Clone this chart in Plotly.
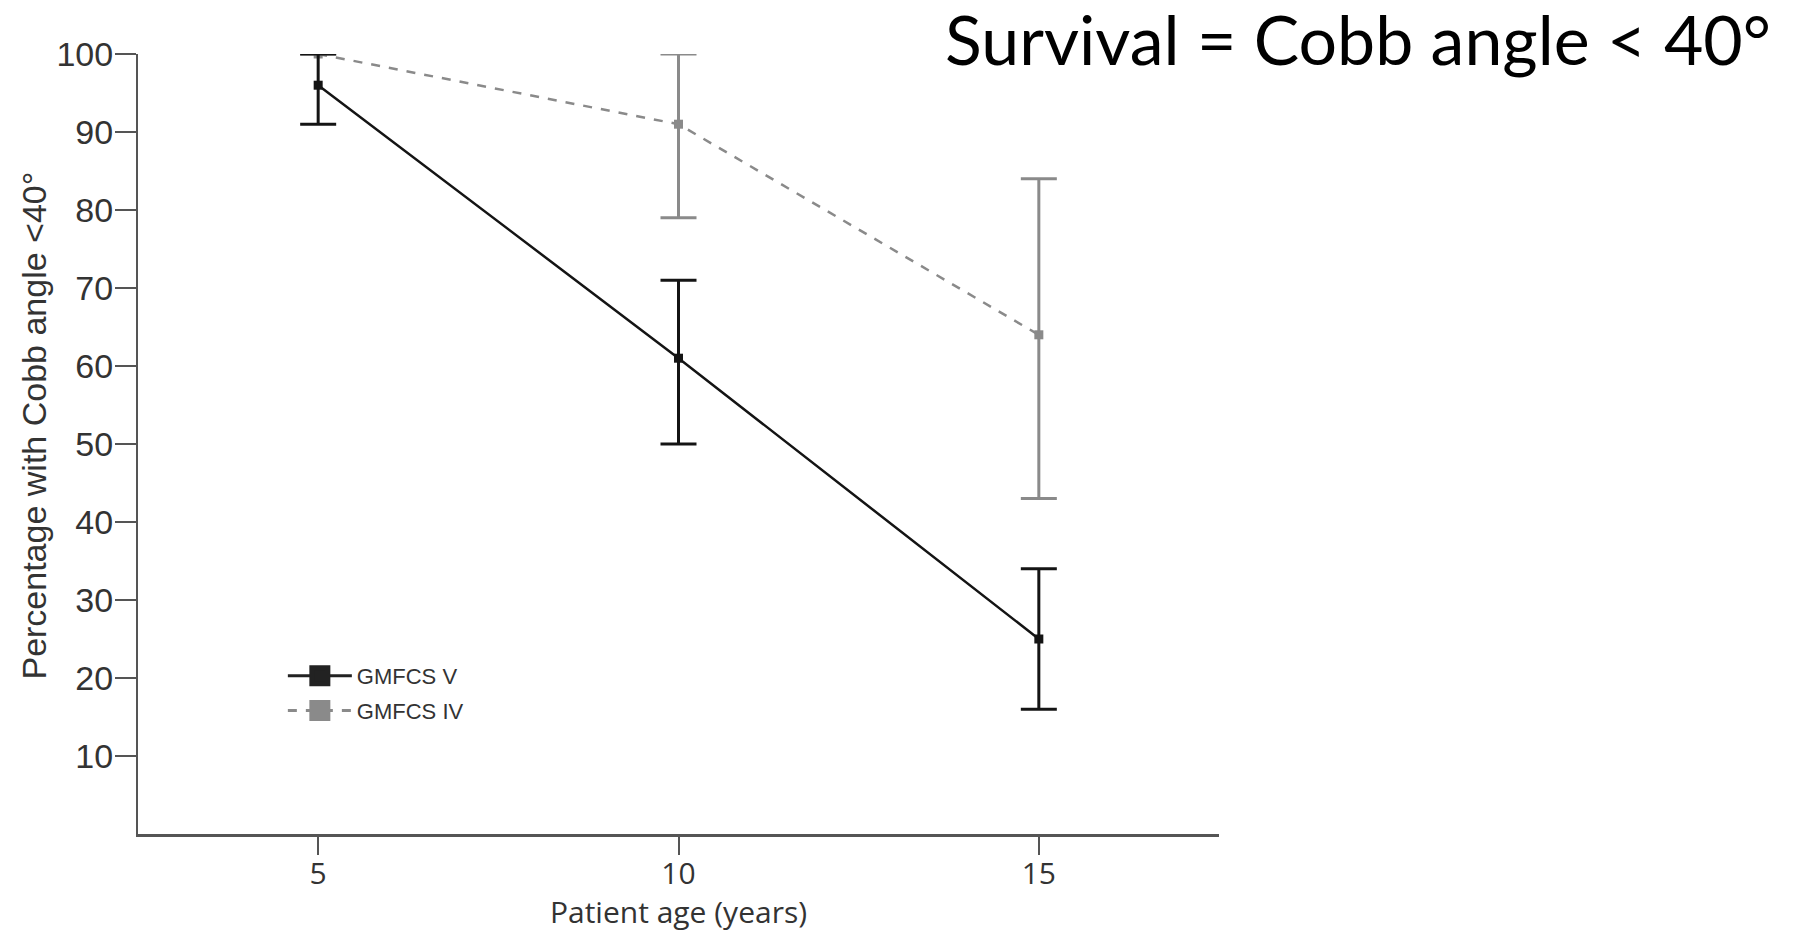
import plotly.graph_objects as go

# ---- data ----
ages = [5, 10, 15]
gmfcs_v = [96, 61, 25]
gmfcs_v_upper = [100, 71, 34]
gmfcs_v_lower = [91, 50, 16]
gmfcs_iv = [100, 91, 64]
gmfcs_iv_upper = [100, 100, 84]
gmfcs_iv_lower = [100, 79, 43]
series_names = ["GMFCS V", "GMFCS IV"]
y_ticks = [10, 20, 30, 40, 50, 60, 70, 80, 90, 100]
x_ticks = [5, 10, 15]

BLACK = "#141414"
GRAY = "#8a8a8a"

def err(vals, up, lo):
    return dict(
        type="data",
        symmetric=False,
        array=[u - v for u, v in zip(up, vals)],
        arrayminus=[v - l for v, l in zip(vals, lo)],
        thickness=3,
        width=18,
    )

fig = go.Figure()

e_iv = err(gmfcs_iv, gmfcs_iv_upper, gmfcs_iv_lower)
e_iv["color"] = GRAY
fig.add_trace(go.Scatter(
    x=ages, y=gmfcs_iv, mode="lines+markers", showlegend=False,
    line=dict(color=GRAY, width=2.5, dash="dash"),
    marker=dict(symbol="square", size=9, color=GRAY),
    error_y=e_iv,
))

e_v = err(gmfcs_v, gmfcs_v_upper, gmfcs_v_lower)
e_v["color"] = BLACK
fig.add_trace(go.Scatter(
    x=ages, y=gmfcs_v, mode="lines+markers", showlegend=False,
    line=dict(color=BLACK, width=2.5),
    marker=dict(symbol="square", size=9, color=BLACK),
    error_y=e_v,
))

# legend entries
fig.add_trace(go.Scatter(
    x=[None], y=[None], mode="lines+markers", name=series_names[0], legendgroup="a",
    line=dict(color="#222222", width=3),
    marker=dict(symbol="square", size=16, color="#222222", line=dict(width=5, color="#222222")),
))
fig.add_trace(go.Scatter(
    x=[None], y=[None], mode="lines+markers", name=series_names[1], legendgroup="b",
    line=dict(color=GRAY, width=3, dash="dash"),
    marker=dict(symbol="square", size=16, color=GRAY, line=dict(width=5, color=GRAY)),
))

W, H = 1795, 924
fig.update_layout(
    width=W, height=H,
    margin=dict(l=130, r=584, t=46, b=98, autoexpand=False),
    paper_bgcolor="white", plot_bgcolor="white",
    title=dict(
        text="Survival = Cobb angle < 40°",
        font=dict(family="Lato", size=68, color="black"),
        xref="container", x=1763 / W, xanchor="right",
        yref="container", y=1 - 33 / H, yanchor="middle",
    ),
    legend=dict(
        x=0.134, y=0.2295, xanchor="left", yanchor="top",
        font=dict(family="Liberation Sans", size=22, color="#333333"),
        bgcolor="rgba(0,0,0,0)", tracegroupgap=3, itemwidth=64,
    ),
    xaxis=dict(
        range=[2.5, 17.5], tickvals=x_ticks, ticktext=[str(t) for t in x_ticks],
        automargin=False,
        showgrid=False, zeroline=False, showline=True, linecolor="#555555", linewidth=3,
        ticks="outside", ticklen=18, tickwidth=2, tickcolor="#555555",
        tickfont=dict(family="Open Sans", size=30, color="#333333"),
        ticklabelstandoff=-7,
        title=dict(text="Patient age (years)", font=dict(family="Open Sans", size=30, color="#333333"), standoff=20),
    ),
    yaxis=dict(
        range=[0, 100], tickvals=y_ticks, ticktext=[str(t) for t in y_ticks],
        automargin=False,
        showgrid=False, zeroline=False, showline=True, linecolor="#555555", linewidth=2,
        ticks="outside", ticklen=21, tickwidth=2, tickcolor="#555555",
        tickfont=dict(family="Liberation Sans", size=34, color="#333333"),
        ticklabelstandoff=-5,
    ),
    annotations=[dict(
        text="Percentage with Cobb angle <40°", textangle=-90,
        xref="paper", yref="paper", x=-0.0971, y=0.5237,
        xanchor="center", yanchor="middle", showarrow=False,
        font=dict(family="Liberation Sans", size=34, color="#333333"),
    )],
)

fig.write_html("out.html")
